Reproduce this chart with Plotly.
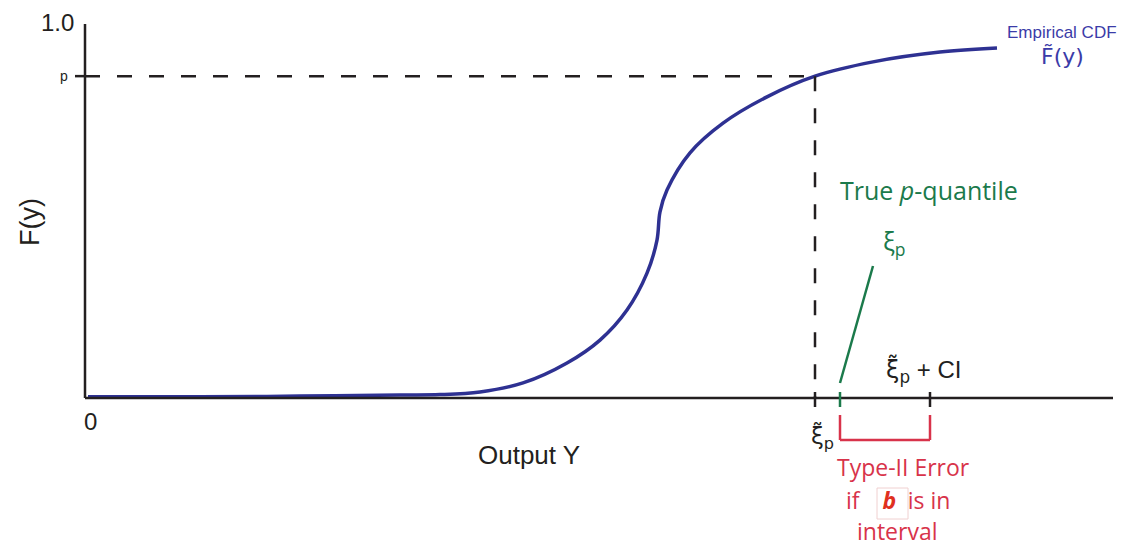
import plotly.graph_objects as go

# Empirical CDF of the output Y (x in output units, F in [0, 1])
cdf_x = [3, 115, 215, 315, 355, 395, 438, 482, 515, 542, 562, 572, 575,
         582, 605, 638, 682, 730, 788, 855, 912]
cdf_f = [0.003, 0.003, 0.005, 0.008, 0.009, 0.016, 0.040, 0.093, 0.154,
         0.234, 0.332, 0.420, 0.495, 0.553, 0.652, 0.731,
         0.801, 0.856, 0.894, 0.920, 0.931]

p_level = 0.856          # probability level p
xi_hat = 730             # estimated quantile (tilde xi_p)
xi_true = 755            # true p-quantile xi_p
xi_ci = 845              # estimated quantile + CI
x_max = 1028             # end of the horizontal axis

W, H = 1133, 546
X0 = 85                  # pixel column of x = 0
Y0, Y1 = 398, 22         # pixel rows of F = 0 and F = 1


def fx(px):
    return px - X0


def fy(py):
    return (Y0 - py) / (Y0 - Y1)


AX = "#231f20"
BLUE = "#2e3192"
LBLUE = "#3b3ba8"
GREEN = "#1b7a4b"
RED = "#d8334a"
TXT = "Liberation Sans, Arial, sans-serif"
MYR = "Open Sans, Noto Sans, sans-serif"
DJV = "DejaVu Sans, sans-serif"

fig = go.Figure()

fig.add_trace(go.Scatter(
    x=cdf_x, y=cdf_f, mode="lines",
    line=dict(color=BLUE, width=3.5, shape="spline", smoothing=1.0),
    hoverinfo="skip", showlegend=False))

shapes = []


def seg(x0, y0, x1, y1, color, width=2.5, dash=None):
    d = dict(type="line", x0=x0, y0=y0, x1=x1, y1=y1,
             line=dict(color=color, width=width))
    if dash:
        d["line"]["dash"] = dash
    shapes.append(d)


# axes
seg(0, 0, 0, fy(24), AX)
seg(0, 0, x_max, 0, AX)
# p tick on the F axis
seg(fx(75), p_level, 0, p_level, AX)
# dashed guides from p to the estimated quantile
seg(0, p_level, xi_hat, p_level, AX, dash="15px,17px")
seg(xi_hat, p_level, xi_hat, 0, AX, dash="15px,17px")
# ticks on the output axis
seg(xi_hat, fy(392), xi_hat, fy(407), AX)
seg(xi_true, fy(392), xi_true, fy(407), GREEN)
seg(xi_ci, fy(392), xi_ci, fy(407), AX)
# pointer to the true quantile
seg(xi_true, fy(383), fx(873), fy(266), GREEN, width=2.5)
# Type-II error interval bracket
seg(xi_true, fy(415), xi_true, fy(440), RED)
seg(xi_ci, fy(415), xi_ci, fy(440), RED)
seg(xi_true, fy(440), xi_ci, fy(440), RED)
# small frame around b
shapes.append(dict(type="rect", x0=fx(877), x1=fx(908), y0=fy(488), y1=fy(519),
                   line=dict(color="#f0d0d0", width=1), fillcolor="rgba(0,0,0,0)"))

annotations = []


def text(px, py, s, size, color=AX, family=TXT, **kw):
    annotations.append(dict(x=fx(px), y=fy(py), text=s, showarrow=False,
                            font=dict(size=size, color=color, family=family),
                            xanchor=kw.pop("xanchor", "center"),
                            yanchor=kw.pop("yanchor", "middle"), **kw))


text(57, 22, "1.0", 24)
text(64, 76, "p", 14)
text(30, 222, "F(y)", 27, textangle=-90)
text(90, 421, "0", 24)
text(529, 455, "Output Y", 26)
text(1062, 32, "Empirical CDF", 17, color=LBLUE)
text(1062, 56, "F\u0303(y)", 22, color=LBLUE, family=DJV)
text(929, 190, "True <i>p</i>-quantile", 25, color=GREEN, family=MYR)
text(894, 242, "\u03be<sub>p</sub>", 25, color=GREEN, family=MYR)
text(884, 370, "\u03be\u0303<sub>p</sub>"
     "<span style='font-family:Liberation Sans'> + CI</span>", 24,
     family=DJV, xanchor="left")
text(809, 437, "\u03be\u0303<sub>p</sub>", 23, family=DJV, xanchor="left")
text(903, 467, "Type-II Error", 23, color=RED, family=MYR)
text(898, 500, "if\u2003<span style='color:#e0301e'><b><i>b</i></b></span>"
     "\u2002is in", 23, color=RED, family=MYR)
text(897, 531, "interval", 23, color=RED, family=MYR)

fig.update_layout(
    width=W, height=H,
    margin=dict(l=0, r=0, t=0, b=0),
    paper_bgcolor="white", plot_bgcolor="white",
    xaxis=dict(range=[fx(0), fx(W)], visible=False, fixedrange=True),
    yaxis=dict(range=[fy(H), fy(0)], visible=False, fixedrange=True),
    shapes=shapes, annotations=annotations,
)

fig.write_html("out.html")
